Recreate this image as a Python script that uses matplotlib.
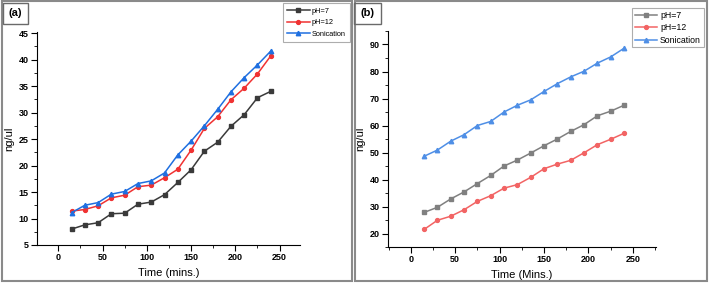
import matplotlib
matplotlib.use("Agg")
import matplotlib.pyplot as plt
from matplotlib.patches import Rectangle
from matplotlib.ticker import MultipleLocator

plt.rcParams["font.family"] = ["Liberation Sans", "DejaVu Sans"]

# Data
time = [15, 30, 45, 60, 75, 90, 105, 120, 135, 150, 165, 180, 195, 210, 225, 240]

a_ph7 = [8.0, 8.8, 9.2, 10.9, 11.0, 12.7, 13.1, 14.5, 16.8, 19.2, 22.7, 24.4, 27.4, 29.6, 32.8, 34.0]
a_ph12 = [11.4, 11.7, 12.4, 13.9, 14.4, 16.0, 16.3, 17.7, 19.3, 22.9, 27.0, 29.2, 32.4, 34.6, 37.3, 40.7]
a_son = [11.1, 12.5, 13.0, 14.6, 15.1, 16.6, 17.1, 18.6, 22.0, 24.6, 27.5, 30.6, 33.9, 36.6, 39.0, 41.6]

b_ph7 = [27.8, 29.7, 32.8, 35.4, 38.5, 41.5, 45.0, 47.2, 49.8, 52.5, 55.0, 57.8, 60.3, 63.6, 65.3, 67.5]
b_ph12 = [21.5, 24.9, 26.4, 28.8, 31.9, 34.0, 36.8, 38.1, 40.8, 44.0, 45.7, 47.1, 49.9, 52.9, 54.9, 57.1]
b_son = [48.6, 50.9, 54.2, 56.6, 60.0, 61.5, 65.0, 67.5, 69.5, 72.6, 75.5, 78.0, 80.1, 83.1, 85.4, 88.6]

labels = ["pH=7", "pH=12", "Sonication"]
W, H = 709, 284


def fx(px):
    return px / W


def fy(py):
    return 1 - py / H


def style_axes(ax):
    for s in ["top", "right"]:
        ax.spines[s].set_visible(False)
    for s in ["left", "bottom"]:
        ax.spines[s].set_linewidth(0.8)
    ax.tick_params(which="major", direction="out", length=4, width=0.8, labelsize=6.5, pad=2)
    ax.tick_params(which="minor", direction="out", length=2, width=0.6)
    for lab in ax.get_xticklabels() + ax.get_yticklabels():
        lab.set_fontweight("bold")


fig = plt.figure(figsize=(W / 100, H / 100), dpi=100)

# panel frames
for x0, x1 in [(2, 352), (355, 707)]:
    fig.patches.append(Rectangle((fx(x0), fy(281)), fx(x1 - x0), (281 - 1) / H,
                                 transform=fig.transFigure, fill=False,
                                 edgecolor="#8a8a8a", linewidth=1.5))
for x0, x1 in [(3, 28), (354, 381)]:
    fig.patches.append(Rectangle((fx(x0), fy(24)), fx(x1 - x0), 21 / H,
                                 transform=fig.transFigure, fill=False,
                                 edgecolor="#6a6a6a", linewidth=1.0))
fig.text(fx(15.5), fy(13.5), "(a)", ha="center", va="center", fontsize=8, fontweight="bold")
fig.text(fx(367.5), fy(13.5), "(b)", ha="center", va="center", fontsize=8, fontweight="bold")

# (a)
ax1 = fig.add_axes([fx(37), fy(245), fx(300 - 37), (245 - 32) / H])
ax1.plot(time, a_ph7, "-s", color="#3a3a3a", ms=2.8, lw=1.1, label=labels[0])
ax1.plot(time, a_ph12, "-o", color="#f03232", ms=2.8, lw=1.1, label=labels[1])
ax1.plot(time, a_son, "-^", color="#1f6fe0", ms=3.2, lw=1.1, label=labels[2])
ax1.set_xlim(-24, 273)
ax1.set_ylim(5, 45.2)
ax1.xaxis.set_major_locator(MultipleLocator(50))
ax1.xaxis.set_minor_locator(MultipleLocator(25))
ax1.yaxis.set_major_locator(MultipleLocator(5))
ax1.yaxis.set_minor_locator(MultipleLocator(2.5))
ax1.set_xlabel("Time (mins.)", fontsize=8, labelpad=4)
ax1.set_ylabel("ng/ul", fontsize=8, labelpad=3)
style_axes(ax1)
leg1 = ax1.legend(loc="upper left", bbox_to_anchor=(fx(283), fy(3)),
                  bbox_transform=fig.transFigure, fontsize=5.3, frameon=True,
                  fancybox=False, edgecolor="#999999", handlelength=3.0,
                  handletextpad=0.3, borderpad=0.6, labelspacing=0.6, borderaxespad=0)
leg1.get_frame().set_linewidth(0.8)

# (b)
ax2 = fig.add_axes([fx(388), fy(247), fx(656 - 388), (247 - 31) / H])
ax2.plot(time, b_ph7, "-s", color="#808080", ms=2.8, lw=1.1, label=labels[0])
ax2.plot(time, b_ph12, "-o", color="#f26464", ms=2.8, lw=1.1, label=labels[1])
ax2.plot(time, b_son, "-^", color="#4f8fe6", ms=3.2, lw=1.1, label=labels[2])
ax2.set_xlim(-25.6, 276)
ax2.set_ylim(15, 95)
ax2.xaxis.set_major_locator(MultipleLocator(50))
ax2.xaxis.set_minor_locator(MultipleLocator(25))
ax2.yaxis.set_major_locator(MultipleLocator(10))
ax2.yaxis.set_minor_locator(MultipleLocator(5))
ax2.set_xlabel("Time (Mins.)", fontsize=8, labelpad=4)
ax2.set_ylabel("ng/ul", fontsize=8, labelpad=3)
style_axes(ax2)
leg2 = ax2.legend(loc="upper left", bbox_to_anchor=(fx(632), fy(8)),
                  bbox_transform=fig.transFigure, fontsize=6.3, frameon=True,
                  fancybox=False, edgecolor="#999999", handlelength=2.6,
                  handletextpad=0.3, borderpad=0.3, labelspacing=0.4, borderaxespad=0)
leg2.get_frame().set_linewidth(0.8)

fig.savefig("out.png", dpi=100)
